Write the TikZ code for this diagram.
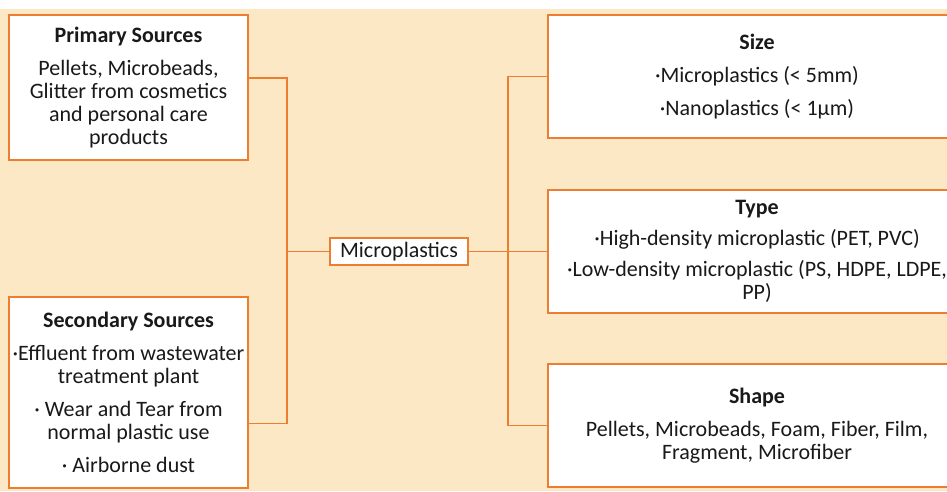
\documentclass[tikz,border=0pt]{standalone}
\usepackage{fontspec}
\setmainfont{Carlito}
\usepackage{tikz}
\usetikzlibrary{positioning,calc}
\definecolor{boxorange}{RGB}{237,125,49}
\definecolor{bgpeach}{RGB}{252,232,197}
\definecolor{textdark}{RGB}{25,25,25}
\tikzstyle{infobox} = [
    rectangle,
    draw=boxorange,
    fill=white,
    line width=1.6pt,
    align=center,
    inner sep=0pt,
    text=textdark,
    font=\fontsize{22}{23}\selectfont
]
\tikzstyle{link} = [
    draw=boxorange,
    line width=1.3pt
]

\begin{document}
\begin{tikzpicture}[x=1pt, y=-1pt]
    \clip (0,0) rectangle (947,491);
    % Background
    \fill[bgpeach] (0,9) rectangle (947,491);

    % Sources
    \node[infobox, minimum width=239pt, minimum height=145pt] (primary) at (128.5,87.5) {{\bfseries Primary Sources}\\[10pt]Pellets, Microbeads,\\Glitter from cosmetics\\and personal care\\products};
    \node[infobox, minimum width=239pt, minimum height=191pt] (secondary) at (128.5,392.5) {{\bfseries Secondary Sources}\\[10pt]·Effluent from wastewater\\treatment plant\\[10pt]· Wear and Tear from\\normal plastic use\\[10pt]· Airborne dust};

    % Centre
    \node[infobox, line width=1.3pt, minimum width=138pt, minimum height=27pt] (micro) at (399,251.5) {Microplastics};

    % Classification
    \node[infobox, minimum width=418pt, minimum height=123pt] (size) at (757,76.5) {{\bfseries Size}\\[10pt]·Microplastics (< 5mm)\\[10pt]·Nanoplastics (< 1µm)};
    \node[infobox, minimum width=418pt, minimum height=123pt] (type) at (757,251.5) {{\bfseries Type}\\[8pt]·High-density microplastic (PET, PVC)\\[8pt]·Low-density microplastic (PS, HDPE, LDPE,\\PP)};
    \node[infobox, minimum width=418pt, minimum height=123pt] (shape) at (757,425.5) {{\bfseries Shape}\\[10pt]Pellets, Microbeads, Foam, Fiber, Film,\\Fragment, Microfiber};

    % Left bracket
    \coordinate (ltop) at (287,78);
    \coordinate (lbot) at (287,423.5);
    \draw[link] (primary.east |- ltop) -- (ltop) -- (lbot) -- (secondary.east |- lbot);
    \draw[link] (micro.west) -- (micro.west -| ltop);

    % Right bracket
    \coordinate (rmid) at (508,251.5);
    \draw[link] (micro.east) -- (rmid) -- (type.west);
    \draw[link] (size.west) -| (rmid) |- (shape.west);

\end{tikzpicture}
\end{document}
